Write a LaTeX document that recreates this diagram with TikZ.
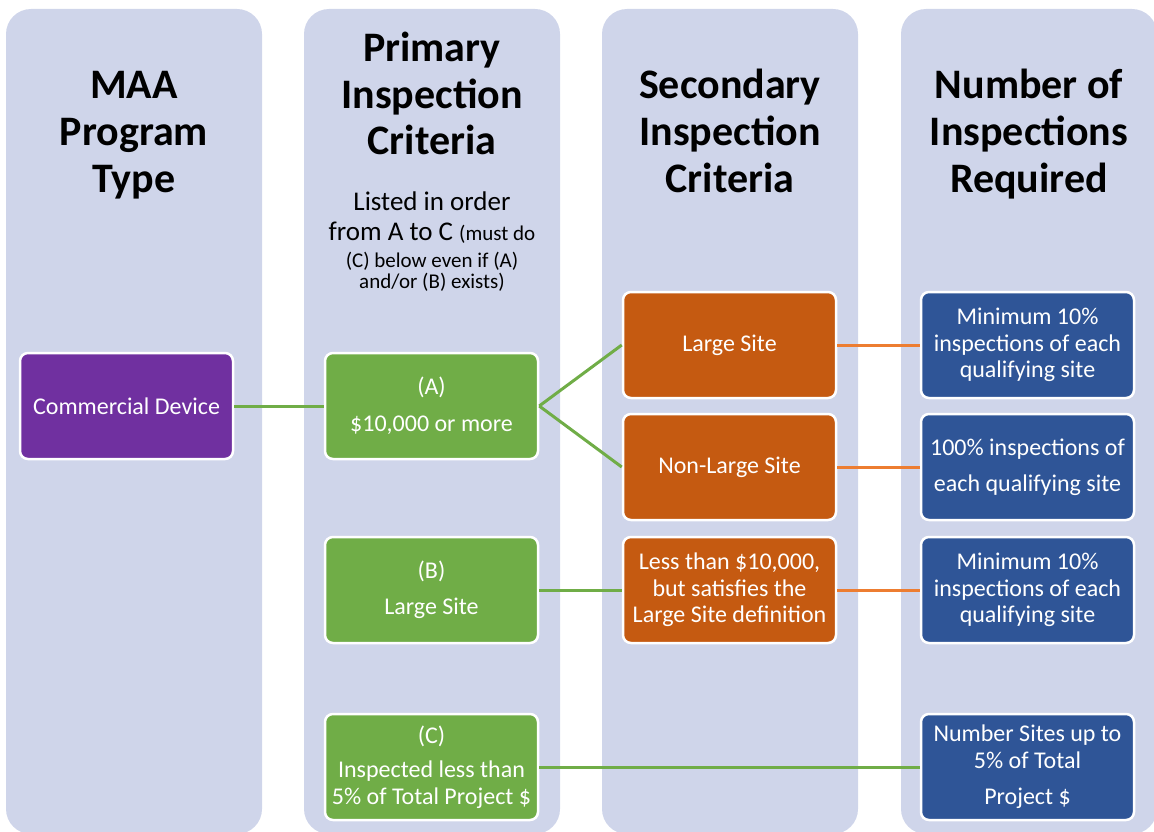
\documentclass[tikz,border=0pt]{standalone}
\usepackage{fontspec}
\setmainfont{Carlito}
\definecolor{colbg}{HTML}{CFD5EA}
\definecolor{cpurple}{HTML}{7030A0}
\definecolor{cgreen}{HTML}{70AD47}
\definecolor{corange}{HTML}{C55A11}
\definecolor{cblue}{HTML}{2F5597}
\definecolor{clineor}{HTML}{ED7D31}
\begin{document}
\begin{tikzpicture}[x=1pt,y=-1pt,
  colbox/.style={fill=colbg, rounded corners=25pt},
  head/.style={anchor=base, align=center, font=\fontsize{42}{46.5}\selectfont\bfseries, text=black, inner sep=0pt},
  box/.style={draw=white, line width=2.5pt, rounded corners=8pt, minimum width=213pt, minimum height=106pt, text=white, align=center, font=\fontsize{24}{26.5}\selectfont, inner sep=2pt},
  pbox/.style={box, fill=cpurple},
  gbox/.style={box, fill=cgreen},
  obox/.style={box, fill=corange},
  bbox/.style={box, fill=cblue},
  gline/.style={draw=cgreen, line width=3pt},
  oline/.style={draw=clineor, line width=3pt}]
\useasboundingbox (0,0) rectangle (1154,832);
% columns
\fill[colbox] (6,9) rectangle (262,834);
\fill[colbox] (304,9) rectangle (560,834);
\fill[colbox] (602,9) rectangle (858,834);
\fill[colbox] (901,9) rectangle (1157,834);
% headers (anchor = baseline of last line)
\node[head] (h1) at (134,192) {MAA\\Program\\Type};
\node[head] (h2) at (432,155) {Primary\\Inspection\\Criteria};
\node[head] (h3) at (730,192) {Secondary\\Inspection\\Criteria};
\node[head] (h4) at (1029,192) {Number of\\Inspections\\Required};
\node[anchor=base, align=center, inner sep=0pt, font=\fontsize{27}{34}\selectfont] (sub) at (432,288)
  {Listed in order\\[-4pt]from A to C {\fontsize{21}{26}\selectfont(must do}\\[-7pt]
   {\fontsize{21}{26}\selectfont(C) below even if (A)}\\[-13pt]
   {\fontsize{21}{26}\selectfont and/or (B) exists)}};
% boxes
\node[pbox] (cd) at (126.5,406) {Commercial Device};
\node[gbox] (A) at (431.5,406) {(A)\\[10pt]\$10,000 or more};
\node[obox] (ls) at (729.5,345) {Large Site};
\node[obox] (nls) at (729.5,467) {Non-Large Site};
\node[bbox] (m1) at (1027.5,345) {Minimum 10\%\\inspections of each\\qualifying site};
\node[bbox] (p100) at (1027.5,467) {100\% inspections of\\[9.5pt]each qualifying site};
\node[gbox] (B) at (431.5,590) {(B)\\[10pt]Large Site};
\node[obox] (lt) at (729.5,590) {Less than \$10,000,\\but satisfies the\\Large Site definition};
\node[bbox] (m2) at (1027.5,590) {Minimum 10\%\\inspections of each\\qualifying site};
\node[gbox] (C) at (431.5,767) {(C)\\[8pt]Inspected less than\\5\% of Total Project \$};
\node[bbox] (ns) at (1027.5,767) {Number Sites up to\\5\% of Total\\[10pt]Project \$};
% connectors
\draw[gline] (cd.east) -- (A.west);
\draw[gline] (A.east) -- (ls.west);
\draw[gline] (A.east) -- (nls.west);
\draw[oline] (ls.east) -- (m1.west);
\draw[oline] (nls.east) -- (p100.west);
\draw[gline] (B.east) -- (lt.west);
\draw[oline] (lt.east) -- (m2.west);
\draw[gline] (C.east) -- (ns.west);
\end{tikzpicture}
\end{document}
